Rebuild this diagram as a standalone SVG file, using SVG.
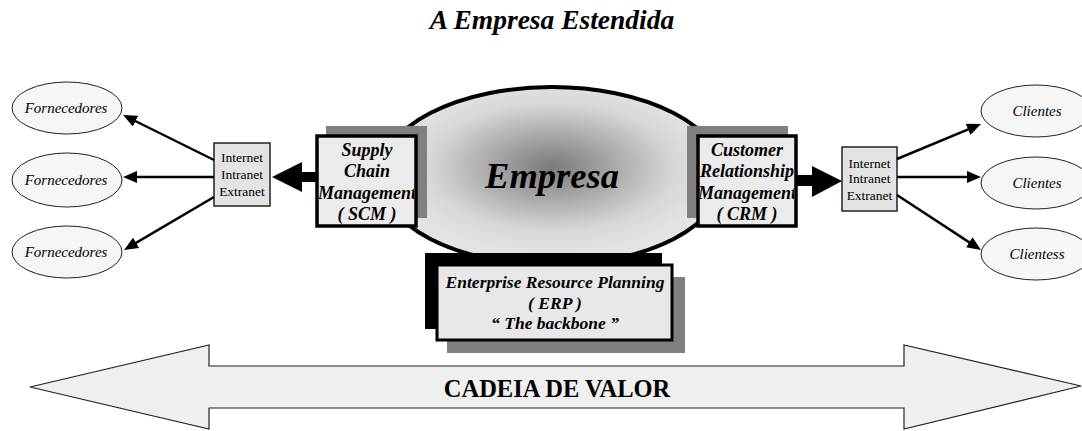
<svg xmlns="http://www.w3.org/2000/svg" width="1082" height="431" viewBox="0 0 1082 431">
<style>
text{font-family:"Liberation Serif","Times New Roman",serif;fill:#000;text-anchor:middle}
.bi{font-weight:bold;font-style:italic}
.it{font-style:italic;font-size:15px}
.net{font-size:13.5px}
.oval{fill:#f6f6f6;stroke:#222;stroke-width:1}
.netbox{fill:#e3e3e3;stroke:#222;stroke-width:1.5}
.shadow{fill:#808080}
.mbox{fill:#ebebeb;stroke:#000;stroke-width:3.5}
.thin{stroke:#000;stroke-width:2.5;fill:none;marker-end:url(#ah)}
.mtxt{font-size:18px}
.etxt{font-size:17.5px}
</style>
<defs>
<radialGradient id="g" cx="0.5" cy="0.45" r="0.5">
<stop offset="0" stop-color="#7a7a7a"/>
<stop offset="0.72" stop-color="#d8d8d8"/>
<stop offset="1" stop-color="#e4e4e4"/>
</radialGradient>
<marker id="ah" viewBox="0 0 14 12" refX="6" refY="6" markerWidth="14" markerHeight="12" markerUnits="userSpaceOnUse" orient="auto">
<path d="M0,0 L14,6 L0,12 z" fill="#000"/>
</marker>
<clipPath id="cs"><rect x="319" y="138" width="95" height="86"/></clipPath>
<clipPath id="cc"><rect x="700" y="138" width="94" height="86"/></clipPath>
</defs>

<text class="bi" x="552" y="29" font-size="27.5">A Empresa Estendida</text>

<g id="valor">
<polygon points="30,387 209,345 209,366 904,366 904,345 1081,386 904,429 904,408 209,408 209,429" fill="#efefef" stroke="#222" stroke-width="1.2"/>
<text x="557" y="397" font-size="24.5" font-weight="bold">CADEIA DE VALOR</text>
</g>

<g id="empresa">
<ellipse cx="552" cy="176" rx="172" ry="89" fill="url(#g)" stroke="#000" stroke-width="4"/>
<text class="bi" x="552" y="188" font-size="36.5">Empresa</text>
</g>

<g id="erp">
<rect x="425" y="253" width="237" height="76" fill="#000"/>
<rect class="shadow" x="447" y="277" width="238" height="76"/>
<rect x="437" y="265" width="235" height="75" fill="#e8e8e8" stroke="#000" stroke-width="3"/>
<text class="bi etxt" x="555" y="288">Enterprise Resource Planning</text>
<text class="bi etxt" x="555" y="309">( ERP )</text>
<text class="bi etxt" x="555" y="329">“ The backbone ”</text>
</g>

<g id="scm">
<rect class="shadow" x="326" y="126" width="101" height="92"/>
<rect class="mbox" x="317" y="136" width="99" height="90"/>
<g clip-path="url(#cs)">
<text class="bi mtxt" x="367" y="156">Supply</text>
<text class="bi mtxt" x="367" y="177">Chain</text>
<text class="bi mtxt" x="367" y="199">Management</text>
<text class="bi mtxt" x="367" y="220">( SCM )</text>
</g>
</g>

<g id="crm">
<rect class="shadow" x="687" y="126" width="101" height="92"/>
<rect class="mbox" x="698" y="136" width="98" height="90"/>
<g clip-path="url(#cc)">
<text class="bi mtxt" x="747" y="156">Customer</text>
<text class="bi mtxt" x="747" y="177">Relationship</text>
<text class="bi mtxt" x="747" y="199">Management</text>
<text class="bi mtxt" x="747" y="220">( CRM )</text>
</g>
</g>

<g id="net1">
<rect class="netbox" x="214" y="143" width="56" height="63"/>
<text class="net" x="242" y="162">Internet</text>
<text class="net" x="242" y="179">Intranet</text>
<text class="net" x="242" y="196">Extranet</text>
</g>

<g id="net2">
<rect class="netbox" x="842" y="147" width="55" height="64"/>
<text class="net" x="869.5" y="168">Internet</text>
<text class="net" x="869.5" y="183">Intranet</text>
<text class="net" x="869.5" y="200">Extranet</text>
</g>

<g id="forn1"><ellipse class="oval" cx="67" cy="108" rx="55" ry="26"/><text class="it" x="66" y="113">Fornecedores</text></g>
<g id="forn2"><ellipse class="oval" cx="67" cy="180" rx="55" ry="27"/><text class="it" x="66" y="185">Fornecedores</text></g>
<g id="forn3"><ellipse class="oval" cx="67" cy="252" rx="55" ry="26"/><text class="it" x="66" y="257">Fornecedores</text></g>

<g id="cli1"><ellipse class="oval" cx="1036" cy="111" rx="55" ry="26"/><text class="it" x="1037" y="116">Clientes</text></g>
<g id="cli2"><ellipse class="oval" cx="1036" cy="183" rx="55" ry="26"/><text class="it" x="1037" y="188">Clientes</text></g>
<g id="cli3"><ellipse class="oval" cx="1036" cy="254" rx="55" ry="26"/><text class="it" x="1037" y="259">Clientess</text></g>

<g id="connectors">
<polygon points="272,177 302,162 302,172 318,172 318,182 302,182 302,192" fill="#000"/>
<polygon points="842,181 812,166 812,175 796,175 796,186 812,186 812,197" fill="#000"/>
<path class="thin" d="M214,160 L130.2,118.5"/>
<path class="thin" d="M214,177 L131,177"/>
<path class="thin" d="M214,197 L130.9,245.9"/>
<path class="thin" d="M897,159 L973.6,127.1"/>
<path class="thin" d="M897,177 L973,177"/>
<path class="thin" d="M897,195 L974.3,245.6"/>
</g>
</svg>
